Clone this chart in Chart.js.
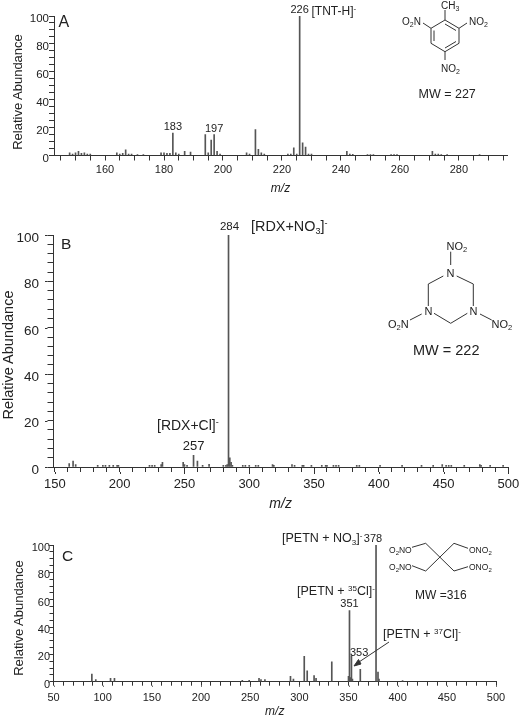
<!DOCTYPE html>
<html>
<head>
<meta charset="utf-8">
<script src="https://cdn.jsdelivr.net/npm/chart.js@4"></script>
<style>
  html, body { margin: 0; padding: 0; background: #fff; }
  canvas { position: absolute; left: 0; }
  #notes { position: absolute; left: 0; top: 0; font-family: "Liberation Sans", Arial, sans-serif; fill: #222; }
  #notes line, #notes polyline, #notes path { stroke: #333; fill: none; stroke-width: 1; }
</style>
</head>
<body>
<canvas id="panel-a" width="520" height="200" style="top:0"></canvas>
<canvas id="panel-b" width="520" height="316" style="top:200px"></canvas>
<canvas id="panel-c" width="520" height="199" style="top:520px"></canvas>

<svg id="notes" width="520" height="719">
  <!-- panel letters -->
  <text x="58.5" y="27" font-size="16">A</text>
  <text x="61" y="249" font-size="15.5">B</text>
  <text x="62" y="561" font-size="15.5">C</text>

  <!-- y axis titles sit a little below the middle of each axis -->
  <text transform="translate(22 92) rotate(-90)" text-anchor="middle" font-size="13">Relative Abundance</text>
  <text transform="translate(12.5 355) rotate(-90)" text-anchor="middle" font-size="14.5">Relative Abundance</text>
  <text transform="translate(23 618) rotate(-90)" text-anchor="middle" font-size="13">Relative Abundance</text>

  <!-- panel A -->
  <text x="311.5" y="15" font-size="12">[TNT-H]<tspan dy="-4" font-size="8">-</tspan></text>
  <polyline points="445,20 459,28.3 459,43.3 445,51.7 431,43.3 431,28.3 445,20"/>
  <line x1="445" y1="24" x2="456" y2="30.5"/>
  <line x1="456" y1="41.5" x2="445" y2="48"/>
  <line x1="434" y1="41" x2="434" y2="30.5"/>
  <line x1="445" y1="20" x2="445" y2="10"/>
  <line x1="431" y1="28.3" x2="423" y2="23"/>
  <line x1="459" y1="28.3" x2="467" y2="23"/>
  <line x1="445" y1="51.7" x2="445" y2="60"/>
  <text x="441" y="9" font-size="10">CH<tspan dy="2" font-size="7">3</tspan></text>
  <text x="402" y="25" font-size="10">O<tspan dy="2" font-size="7">2</tspan><tspan dy="-2">N</tspan></text>
  <text x="469" y="25" font-size="10">NO<tspan dy="2" font-size="7">2</tspan></text>
  <text x="441" y="72" font-size="10">NO<tspan dy="2" font-size="7">2</tspan></text>
  <text x="418.5" y="98" font-size="12.5">MW = 227</text>

  <!-- panel B -->
  <text x="251" y="230.5" font-size="14.4">[RDX+NO<tspan dy="3" font-size="9">3</tspan><tspan dy="-3">]</tspan><tspan dy="-5" font-size="9">-</tspan></text>
  <text x="157" y="430" font-size="14">[RDX+Cl]<tspan dy="-5" font-size="9">-</tspan></text>
  <line x1="450.7" y1="251.7" x2="450.7" y2="265"/>
  <polyline points="443.3,276 428.3,284 428.3,306"/>
  <polyline points="456.7,276 473.3,284 473.3,306"/>
  <polyline points="434,313.3 450.7,323.3 467.3,313.3"/>
  <line x1="410" y1="320" x2="421.7" y2="314"/>
  <line x1="480" y1="314" x2="491.7" y2="320"/>
  <text x="446.5" y="276.5" font-size="11">N</text>
  <text x="424.5" y="315" font-size="11">N</text>
  <text x="469.5" y="315" font-size="11">N</text>
  <text x="446.5" y="250" font-size="11">NO<tspan dy="2" font-size="7.5">2</tspan></text>
  <text x="388" y="328" font-size="11">O<tspan dy="2" font-size="7.5">2</tspan><tspan dy="-2">N</tspan></text>
  <text x="491.5" y="328" font-size="11">NO<tspan dy="2" font-size="7.5">2</tspan></text>
  <text x="413" y="355" font-size="14.5">MW = 222</text>

  <!-- panel C -->
  <text x="282" y="542" font-size="12.5">[PETN + NO<tspan dy="3" font-size="8">3</tspan><tspan dy="-3">]</tspan><tspan dy="-4" font-size="8">-</tspan></text>
  <text x="297" y="595" font-size="12.5">[PETN + <tspan dy="-4" font-size="8">35</tspan><tspan dy="4">Cl]</tspan><tspan dy="-4" font-size="8">-</tspan></text>
  <text x="383" y="638" font-size="12.5">[PETN + <tspan dy="-4" font-size="8">37</tspan><tspan dy="4">Cl]</tspan><tspan dy="-4" font-size="8">-</tspan></text>
  <text x="350" y="656" font-size="11">353</text>
  <line x1="389" y1="642" x2="356" y2="664"/>
  <path d="M354 666 L358.5 659.5 L361 664 Z" style="fill:#333"/>
  <polyline points="412,547.3 425.7,543.3 454,571 468,566.7"/>
  <polyline points="468,548.3 454,543.3 425.7,571 412,565.7"/>
  <text x="389" y="552.5" font-size="8.5">O<tspan dy="2" font-size="6">2</tspan><tspan dy="-2">NO</tspan></text>
  <text x="469" y="552.5" font-size="8.5">ONO<tspan dy="2" font-size="6">2</tspan></text>
  <text x="389" y="569.5" font-size="8.5">O<tspan dy="2" font-size="6">2</tspan><tspan dy="-2">NO</tspan></text>
  <text x="469" y="570" font-size="8.5">ONO<tspan dy="2" font-size="6">2</tspan></text>
  <text x="415" y="599" font-size="12">MW =316</text>
</svg>

<script>
const mzA = [148, 149, 150, 151, 152, 153, 154, 155, 164, 165, 166, 167, 168, 169, 171, 173,
  179, 180, 181, 182, 183, 184, 185, 187, 189, 194, 195, 196, 197, 198, 199, 208, 209,
  211, 212, 213, 214, 222, 223, 224, 225, 226, 227, 228, 229, 230, 242, 243, 244,
  249, 250, 251, 257, 258, 259, 271, 272, 273, 274, 276, 287];
const abundanceA = [2, 1, 2, 3, 1.5, 2, 1, 1, 2, 1, 1.5, 4, 1, 1, 0.7, 0.7,
  2, 2, 1.5, 1.5, 16, 2, 1, 3, 2.5, 15, 2, 11, 15, 3, 1, 2, 1,
  18.5, 4.5, 2, 1, 1, 1, 5.5, 1, 100, 9, 6, 1, 1, 3, 1, 0.8,
  0.7, 0.7, 0.7, 0.7, 0.7, 0.7, 3, 1, 1, 0.7, 0.7, 0.7];
const peakLabelsA = [183, 197, 226];

const mzB = [161, 164, 166, 183, 187, 189, 192, 195, 198, 199, 223, 225, 227, 232, 233,
  249, 250, 252, 257, 260, 264, 269, 280, 282, 283, 284, 285, 286, 287,
  295, 297, 300, 305, 307, 318, 319, 333, 335, 341, 342, 348, 356, 359, 360, 365, 367, 369,
  383, 385, 401, 418, 433, 442, 449, 452, 454, 456, 466, 478, 479, 486, 496];
const abundanceB = [1.5, 2.5, 1, 0.7, 0.7, 0.7, 0.7, 0.7, 0.7, 0.7, 0.7, 0.7, 0.7, 1, 2,
  2, 1, 0.7, 5, 2.5, 0.7, 1.2, 0.7, 0.7, 1, 100, 4, 2, 0.7,
  0.7, 0.7, 0.7, 0.7, 0.7, 1, 0.7, 1, 0.7, 0.7, 0.7, 0.7, 0.7, 0.7, 0.7, 0.7, 0.7, 0.7,
  0.7, 0.7, 0.7, 0.7, 0.7, 0.7, 1, 0.7, 0.7, 0.7, 0.7, 1, 0.7, 0.7, 0.7];
const peakLabelsB = [257, 284];

const mzC = [89, 93, 108, 112, 242, 249, 259, 261, 265, 291, 294, 305, 308, 315, 317, 333,
  350, 351, 352, 353, 354, 362, 378, 380, 381, 405];
const abundanceC = [5.5, 1.5, 2.5, 2.5, 1, 1, 2.5, 1.5, 1.5, 4, 2, 18.5, 8, 4.5, 2.5, 14.5,
  4, 52, 3, 19, 2, 9, 100, 7, 2, 0.8];
const peakLabelsC = [351, 378];

const FONT = "'Liberation Sans', Arial, sans-serif";
const INK = "#333";

// numbers written over the labelled peaks
const peakNumbers = {
  id: "peakNumbers",
  afterDatasetsDraw(chart, args, opts) {
    const { ctx, scales } = chart;
    const data = chart.data.datasets[0].data;
    ctx.save();
    ctx.fillStyle = "#222";
    ctx.textAlign = "center";
    ctx.textBaseline = "bottom";
    opts.peaks.forEach((mz) => {
      const point = data.find((d) => d.x === mz);
      const dx = opts.shift && opts.shift[mz] ? opts.shift[mz] : 0;
      const size = opts.sizes && opts.sizes[mz] ? opts.sizes[mz] : opts.size;
      ctx.font = size + "px " + FONT;
      ctx.fillText(mz, scales.x.getPixelForValue(mz) + dx, scales.y.getPixelForValue(point.y) - opts.gap);
    });
    ctx.restore();
  },
};

// labelled ticks are a bit longer than the rest
const longTicks = {
  id: "longTicks",
  afterDraw(chart, args, opts) {
    const { ctx, scales } = chart;
    ctx.save();
    ctx.strokeStyle = INK;
    ctx.lineWidth = 1;
    ctx.beginPath();
    if (opts.y) {
      scales.y.ticks.filter((t) => t.value % 20 === 0).forEach((t) => {
        const py = Math.round(scales.y.getPixelForValue(t.value)) + 0.5;
        const from = scales.y.right - opts.yLen;
        ctx.moveTo(from, py);
        ctx.lineTo(from - opts.y, py);
      });
    }
    if (opts.x) {
      scales.x.ticks.filter((t) => t.value % opts.every === 0).forEach((t) => {
        const px = Math.round(scales.x.getPixelForValue(t.value)) + 0.5;
        const from = scales.x.top + opts.xLen;
        ctx.moveTo(px, from);
        ctx.lineTo(px, from + opts.x);
      });
    }
    ctx.stroke();
    ctx.restore();
  },
};

function makePanel(id, mz, abundance, o) {
  const canvas = document.getElementById(id);
  return new Chart(canvas, {
    type: "bar",
    data: {
      datasets: [{
        data: mz.map((x, i) => ({ x: x, y: abundance[i] })),
        backgroundColor: "#555",
        barThickness: 1,
      }],
    },
    plugins: [peakNumbers, longTicks],
    options: {
      responsive: false,
      animation: false,
      layout: { padding: { left: 0, top: o.top, right: o.right, bottom: 0 } },
      plugins: {
        legend: { display: false },
        tooltip: { enabled: false },
        peakNumbers: { peaks: o.peaks, size: o.peakFont, gap: o.gap, shift: o.shift, sizes: o.sizes },
        longTicks: { x: o.xExtra, y: o.yExtra, xLen: o.xTick, yLen: o.yTick, every: o.xLabelStep },
      },
      scales: {
        x: {
          type: "linear",
          offset: false,
          min: o.xMin,
          max: o.xMax,
          grid: { offset: false, drawOnChartArea: false, tickLength: o.xTick, tickColor: INK },
          border: { color: INK },
          ticks: {
            stepSize: o.xStep,
            includeBounds: false,
            autoSkip: false,
            maxRotation: 0,
            padding: o.xPad,
            color: "#222",
            font: { family: FONT, size: o.xFont },
            callback: (v) => (v % o.xLabelStep === 0 ? v : ""),
          },
          title: {
            display: true,
            text: "m/z",
            color: "#222",
            font: { family: FONT, size: o.xTitle, style: "italic" },
            padding: { top: 0, bottom: o.xTitlePad },
          },
          afterFit: (scale) => {
            scale.height = o.xHeight;
            // keep the plot edges where layout.padding puts them
            scale.paddingLeft = 0;
            scale.paddingRight = 0;
          },
        },
        y: {
          min: 0,
          max: 100,
          grid: { drawOnChartArea: false, tickLength: o.yTick, tickColor: INK },
          border: { color: INK },
          ticks: {
            stepSize: o.yStep,
            autoSkip: false,
            padding: o.yPad,
            labelOffset: 3,
            color: "#222",
            font: { family: FONT, size: o.yFont },
            callback: (v) => (v % 20 === 0 ? v : ""),
          },
          afterFit: (scale) => { scale.width = o.yWidth; },
        },
      },
    },
  });
}

makePanel("panel-a", mzA, abundanceA, {
  top: 16, right: 13, xMin: 142.7, xMax: 296.3, xStep: 5, xLabelStep: 20, yStep: 5,
  xFont: 11, yFont: 11.5, peakFont: 11, xTitle: 12, xTick: 5, yTick: 5, xPad: 3, yPad: 0,
  xHeight: 44.5, yWidth: 54, xTitlePad: 4, gap: 0.5, peaks: peakLabelsA,
});

makePanel("panel-b", mzB, abundanceB, {
  top: 35, right: 11.7, xMin: 148.5, xMax: 500, xStep: 10, xLabelStep: 50, yStep: 4,
  xFont: 13, yFont: 13.5, peakFont: 13, xTitle: 14, xTick: 5, yTick: 5.5, xPad: 5, yPad: 8.5,
  xExtra: 2, yExtra: 2.5, xHeight: 49, yWidth: 53, xTitlePad: 3, gap: 2, peaks: peakLabelsB,
  sizes: { 284: 11.5 }, shift: { 284: 1 },
});

makePanel("panel-c", mzC, abundanceC, {
  top: 25, right: 24, xMin: 50, xMax: 500, xStep: 10, xLabelStep: 50, yStep: 5,
  xFont: 11, yFont: 11, peakFont: 11, xTitle: 12, xTick: 4, yTick: 4, xPad: 6, yPad: -0.5,
  xExtra: 1, yExtra: 1, xHeight: 37.3, yWidth: 53.5, xTitlePad: 0, gap: 1, peaks: peakLabelsC,
  shift: { 378: -3 },
});
</script>
</body>
</html>
